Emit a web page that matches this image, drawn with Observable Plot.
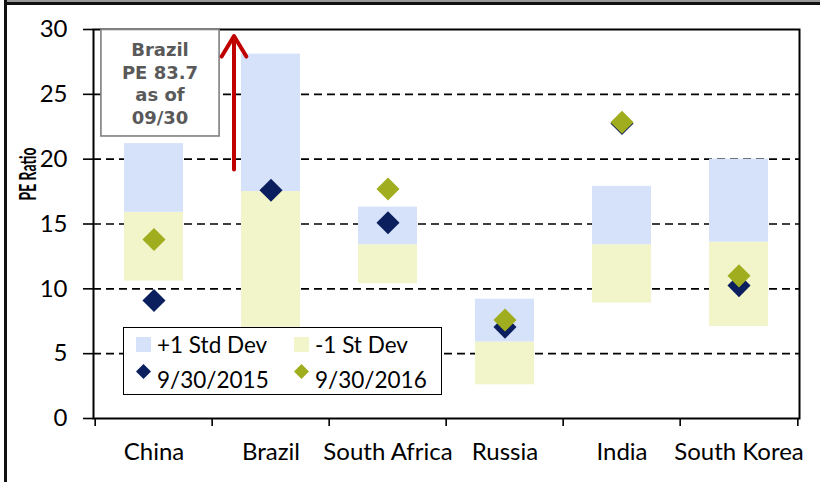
<!DOCTYPE html>
<html><head><meta charset="utf-8">
<script src="https://cdn.jsdelivr.net/npm/d3@7"></script>
<script src="https://cdn.jsdelivr.net/npm/@observablehq/plot@0.6"></script>
<style>
html,body{margin:0;padding:0;background:#fff;}
#wrap{position:relative;width:820px;height:482px;overflow:hidden;background:#fff;}
#wrap svg{position:absolute;left:0;top:0;}
#bTop{position:absolute;left:4px;top:0;width:820px;height:2px;background:#9a9a9a;}
#bTop2{position:absolute;left:4px;top:2px;width:820px;height:3px;background:#111;}
#bLeft{position:absolute;left:4px;top:0;width:3px;height:482px;background:#111;}
#legend{position:absolute;left:123px;top:327px;width:317px;height:66px;border:1.5px solid #000;background:#fff;font-family:Lato,sans-serif;font-size:22.5px;color:#000;}
#legend .item{position:absolute;display:flex;align-items:center;height:30px;white-space:nowrap;}
#legend .sw{width:15px;height:15px;margin-right:6px;}
#legend .dm{width:15px;height:15px;margin-right:6px;}
</style></head><body><div id="wrap"></div>
<script>
// ---- data ----
const categories = ["China", "Brazil", "South Africa", "Russia", "India", "South Korea"];
const minusOneSd = [10.6, 6.9, 10.4, 2.6, 8.9, 7.1];   // mean - 1 sd
const meanPE     = [15.9, 17.5, 13.4, 5.9, 13.4, 13.6];
const plusOneSd  = [21.2, 28.1, 16.3, 9.2, 17.9, 20.0]; // mean + 1 sd
const pe2015     = [9.1, 17.6, 15.1, 7.05, 22.75, 10.25];
const pe2016     = [13.8, null, 17.7, 7.6, 22.85, 11.0]; // Brazil 83.7 off chart
const yTicks = [0, 5, 10, 15, 20, 25, 30];
const gridTicks = [5, 10, 15, 20, 25];
const seriesLabels = ["+1 Std Dev", "-1 St Dev", "9/30/2015", "9/30/2016"];
const noteLines = ["Brazil", "PE 83.7", "as of", "09/30"];
const noteArrow = [{c: "Brazil", from: 19.2, to: 29.5}];
const colors = {plus: "#d6e2fa", minus: "#f2f5c9", y2015: "#0b1f5e", y2016: "#a0ad1f", arrow: "#c00000", note: "#595959"};

// ---- tables ----
const bars = categories.map((c, i) => ({c, lo: minusOneSd[i], mid: meanPE[i], hi: plusOneSd[i]}));
const pts15 = categories.map((c, i) => ({c, v: pe2015[i]})).filter(d => d.v != null);
const pts16 = categories.map((c, i) => ({c, v: pe2016[i]})).filter(d => d.v != null);

const W = 820, H = 482, mL = 93, mR = 21, mT = 29, mB = 64;
const step = (W - mL - mR) / categories.length;
const labelFont = "Lato, sans-serif";

const chart = Plot.plot({
  width: W, height: H,
  marginLeft: mL, marginRight: mR, marginTop: mT, marginBottom: mB,
  style: {fontFamily: labelFont, background: "white", color: "#000", overflow: "visible"},
  x: {domain: categories, paddingInner: 0.5, paddingOuter: 0.25, axis: null},
  y: {domain: [0, 30], axis: null},
  marks: [
    Plot.gridY(gridTicks, {stroke: "#000", strokeOpacity: 1, strokeWidth: 1.6, strokeDasharray: "8,5"}),
    Plot.barY(bars, {x: "c", y1: "lo", y2: "mid", fill: colors.minus}),
    Plot.barY(bars, {x: "c", y1: "mid", y2: "hi", fill: colors.plus}),
    Plot.axisY({ticks: yTicks, tickSize: 10, tickFormat: () => "", label: null, strokeWidth: 1.6}),
    Plot.text(yTicks, {y: d => d, frameAnchor: "left", textAnchor: "end", dx: -26, fontSize: 24, fontFamily: labelFont, fill: "#000"}),
    Plot.axisX({ticks: categories, tickSize: 8, tickFormat: () => "", dx: -step / 2, label: null, strokeWidth: 1.6}),
    Plot.axisX({ticks: categories.slice(-1), tickSize: 8, tickFormat: () => "", dx: step / 2, label: null, strokeWidth: 1.6}),
    Plot.text(categories, {x: d => d, frameAnchor: "bottom", lineAnchor: "top", dy: 24, fontSize: 24, fontFamily: labelFont, fill: "#000"}),
    Plot.frame({stroke: "#000", strokeWidth: 2}),
    Plot.dot(pts15, {x: "c", y: "v", symbol: "diamond2", r: 10.4, fill: colors.y2015}),
    Plot.dot(pts16, {x: "c", y: "v", symbol: "diamond2", r: 10.4, fill: colors.y2016}),
    Plot.text([noteLines.join("\n")], {x: () => "China", y: () => 30, dx: 6, dy: 11, lineAnchor: "top", lineHeight: 1.25,
      fontFamily: "DejaVu Sans", fontWeight: "bold", fontSize: 18, fill: colors.note, className: "note"}),
    Plot.arrow(noteArrow, {x1: "c", x2: "c", y1: "from", y2: "to", dx: -37, stroke: colors.arrow, strokeWidth: 4, headLength: 9, headAngle: 62}),
    Plot.text(["PE Ratio"], {frameAnchor: "left", textAnchor: "middle", rotate: -90, dx: -65, dy: -50, fontFamily: labelFont,
      fontWeight: "bold", fontSize: 23, fill: "#000", className: "ylabel"})
  ]
});

const wrap = document.getElementById("wrap");
wrap.appendChild(chart);
["bTop", "bTop2", "bLeft"].forEach(id => { const d = document.createElement("div"); d.id = id; wrap.appendChild(d); });

// box around the annotation text
const noteG = chart.querySelector("g.note");
if (noteG) {
  const t = noteG.querySelector("text");
  const bb = t.getBBox();
  const rect = document.createElementNS("http://www.w3.org/2000/svg", "rect");
  rect.setAttribute("x", bb.x - 21);
  rect.setAttribute("y", bb.y - 10);
  rect.setAttribute("width", bb.width + 42);
  rect.setAttribute("height", bb.height + 18);
  rect.setAttribute("fill", "#fff");
  rect.setAttribute("stroke", "#7f7f7f");
  rect.setAttribute("stroke-width", 1.6);
  const tr = t.getAttribute("transform");
  if (tr) rect.setAttribute("transform", tr);
  t.parentNode.insertBefore(rect, t);
}
// condense the y label to the reference's proportions
const yl = chart.querySelector("g.ylabel text");
if (yl) { yl.setAttribute("textLength", 53); yl.setAttribute("lengthAdjust", "spacingAndGlyphs"); }

// legend
const legend = document.createElement("div");
legend.id = "legend";
const items = [
  {label: seriesLabels[0], color: colors.plus, kind: "sw", left: 12, top: 1},
  {label: seriesLabels[1], color: colors.minus, kind: "sw", left: 170, top: 1},
  {label: seriesLabels[2], color: colors.y2015, kind: "dm", left: 12, top: 36},
  {label: seriesLabels[3], color: colors.y2016, kind: "dm", left: 170, top: 36}
];
items.forEach(it => {
  const d = document.createElement("div");
  d.className = "item";
  d.style.left = it.left + "px";
  d.style.top = it.top + "px";
  const m = document.createElement("div");
  m.className = it.kind;
  if (it.kind === "sw") m.style.background = it.color;
  else m.innerHTML = `<svg width="15" height="15"><path d="M7.5 0L15 7.5L7.5 15L0 7.5Z" fill="${it.color}"/></svg>`;
  d.appendChild(m);
  const s = document.createElement("span");
  s.textContent = it.label;
  d.appendChild(s);
  legend.appendChild(d);
});
wrap.appendChild(legend);
</script>
</body></html>
